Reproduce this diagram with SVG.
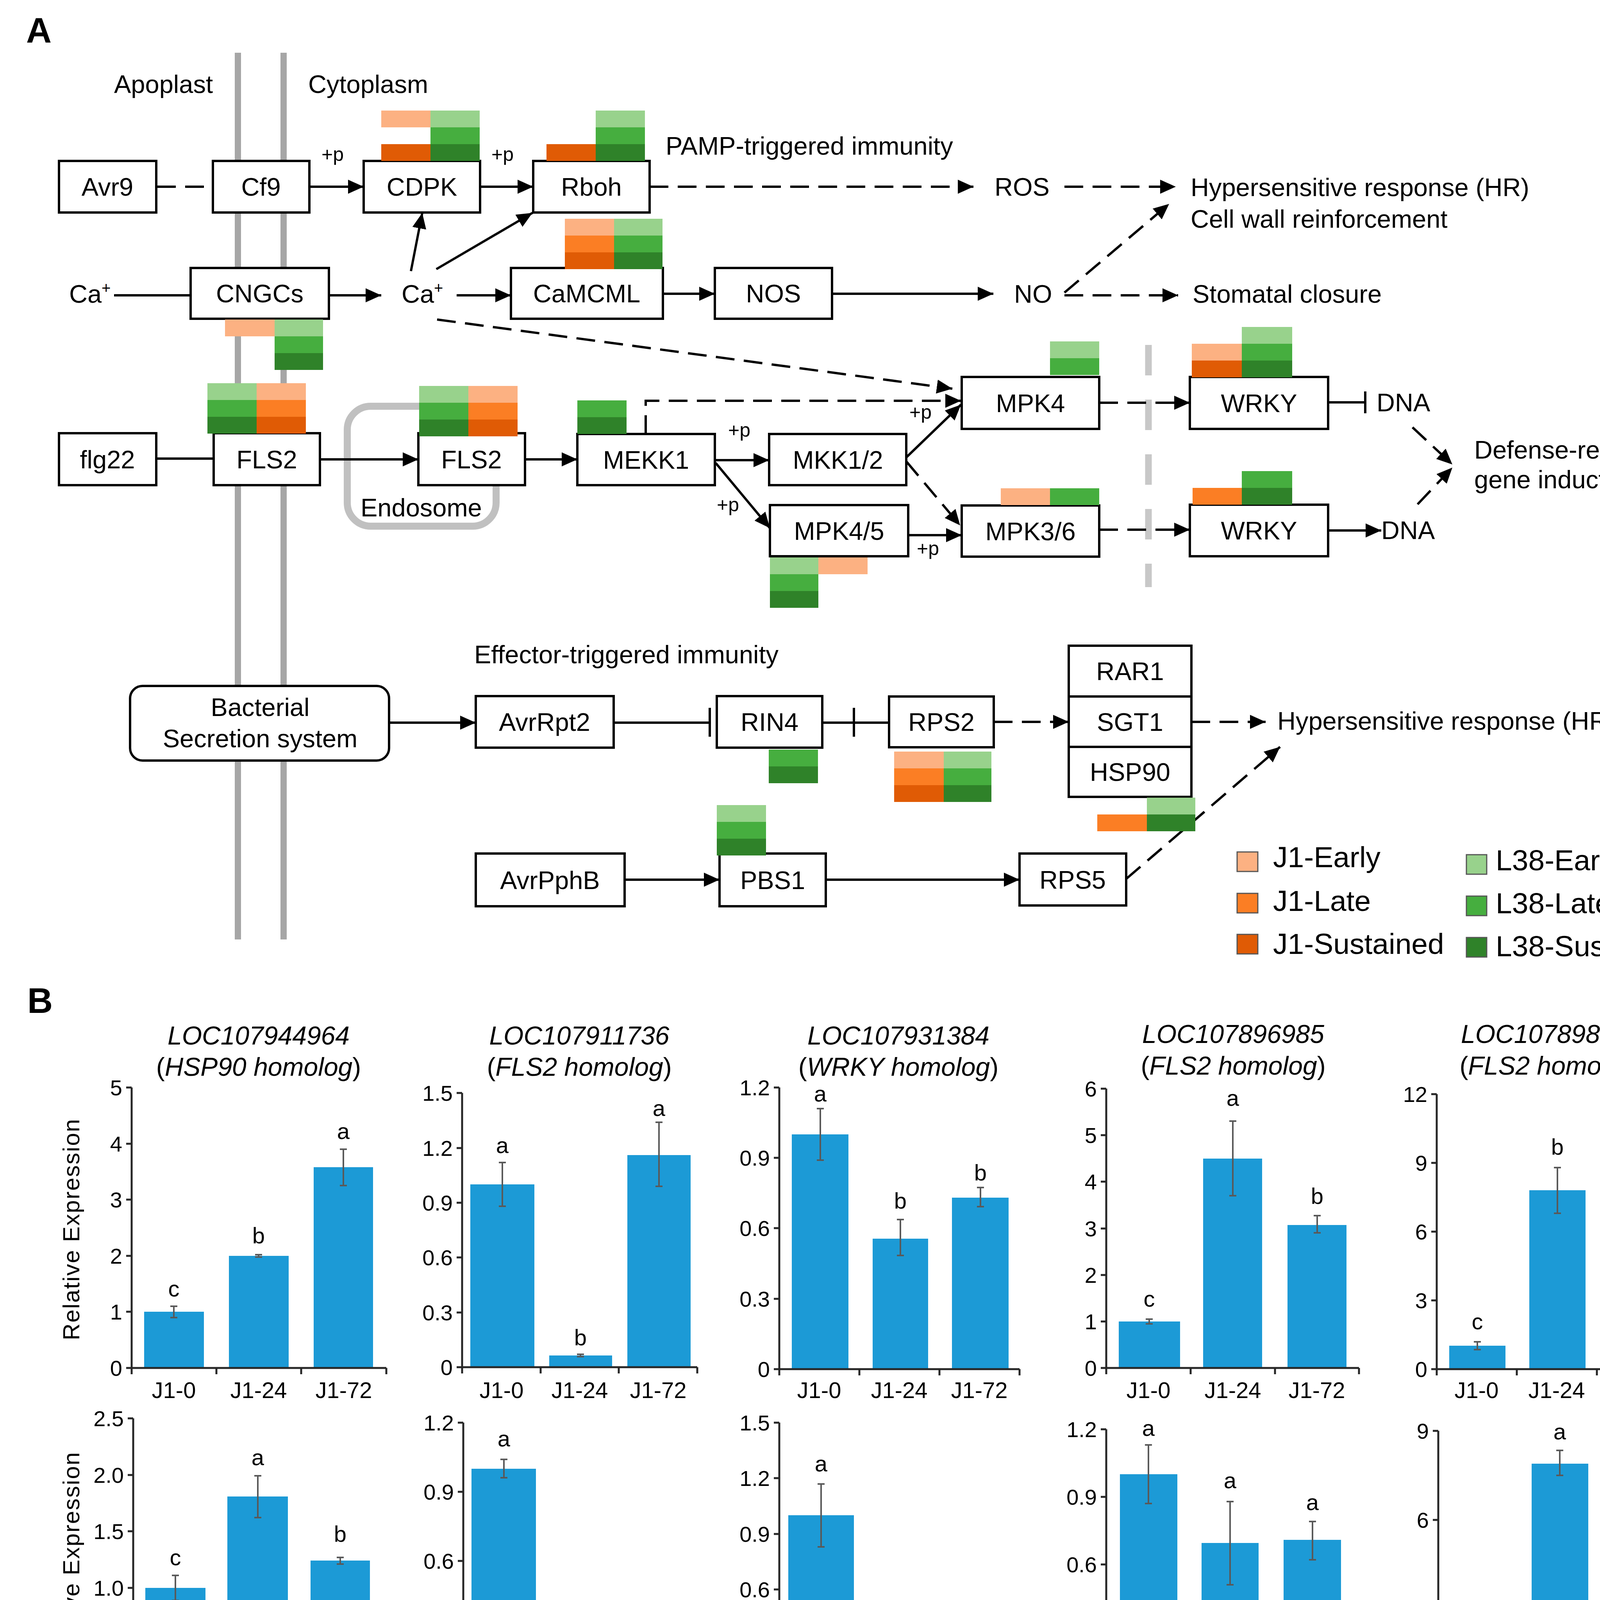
<svg xmlns="http://www.w3.org/2000/svg" width="4356" height="4493" viewBox="0 0 4356 4493">
<defs>
<style>
text{font-family:"Liberation Sans",Arial,sans-serif;fill:#000}
.t{font-size:65px;text-anchor:middle}
.s{font-size:65px}
.pp{font-size:50px}
.box{fill:#fff;stroke:#000;stroke-width:6}
.c{fill:none;stroke:#000;stroke-width:6}
.d{stroke-dasharray:48 24}
.je{fill:#fcb182}.jl{fill:#fb7e24}.js{fill:#e05b05}
.le{fill:#98d28c}.ll{fill:#46ae3f}.ls{fill:#2f8229}
.mem{stroke:#a6a6a6;stroke-width:16}
.leg{font-size:75px}
.sw{stroke:#555;stroke-width:3}
.bar{fill:#1c9ad6}
.err{fill:none;stroke:#595959;stroke-width:4}
.ax{fill:none;stroke:#262626;stroke-width:5}
.tk{font-size:56px;text-anchor:end}
.cat{font-size:58px;text-anchor:middle}
.let{font-size:58px;text-anchor:middle}
.ti{font-size:66px;text-anchor:middle;font-style:italic}
.ttl{font-size:66px;text-anchor:middle}
.yl{font-size:60px;text-anchor:middle;letter-spacing:2px}
</style>
<marker id="ah" viewBox="0 0 40 36" markerWidth="40" markerHeight="36" refX="40" refY="18" orient="auto" markerUnits="userSpaceOnUse"><path d="M0,0L40,18L0,36z" fill="#000"/></marker>
</defs>
<rect width="4356" height="4493" fill="#fff"/>

<!-- Panel A -->
<text x="67" y="109" style="font-size:90px;font-weight:bold">A</text>
<g id="membrane">
<line class="mem" x1="609" y1="135" x2="609" y2="2405"/>
<line class="mem" x1="726" y1="135" x2="726" y2="2405"/>
</g>
<line id="nuclear-boundary" x1="2940" y1="883" x2="2940" y2="1503" stroke="#c8c8c8" stroke-width="17" stroke-dasharray="78 62"/>
<rect id="endosome" x="889" y="1040" width="381" height="307" rx="60" fill="none" stroke="#c0c0c0" stroke-width="18"/>

<text class="s" x="292" y="238">Apoplast</text>
<text class="s" x="789" y="238">Cytoplasm</text>
<text class="s" x="1704" y="396">PAMP-triggered immunity</text>
<text class="s" x="1214" y="1698">Effector-triggered immunity</text>
<text class="s" x="923" y="1322">Endosome</text>
<text class="pp" x="823" y="412">+p</text>
<text class="pp" x="1258" y="412">+p</text>
<text class="pp" x="1864" y="1118">+p</text>
<text class="pp" x="2328" y="1072">+p</text>
<text class="pp" x="1835" y="1309">+p</text>
<text class="pp" x="2347" y="1421">+p</text>

<g id="connectors">
<path class="c d" d="M402,478H545"/>
<path class="c" d="M792,478H931" marker-end="url(#ah)"/>
<path class="c" d="M1229,478H1365" marker-end="url(#ah)"/>
<path class="c d" d="M1663,478H2492" marker-end="url(#ah)"/>
<path class="c d" d="M2725,478H3010" marker-end="url(#ah)"/>
<path class="c" d="M292,756H488"/>
<path class="c" d="M842,756H976" marker-end="url(#ah)"/>
<path class="c" d="M1169,756H1308" marker-end="url(#ah)"/>
<path class="c" d="M1052,694L1081,545" marker-end="url(#ah)"/>
<path class="c" d="M1117,689L1363,545" marker-end="url(#ah)"/>
<path class="c" d="M1697,752H1830" marker-end="url(#ah)"/>
<path class="c" d="M2130,752H2543" marker-end="url(#ah)"/>
<path class="c d" d="M2725,749L2993,522" marker-end="url(#ah)"/>
<path class="c d" d="M2725,756H3016" marker-end="url(#ah)"/>
<path class="c d" d="M1119,818L2438,995" marker-end="url(#ah)"/>
<path class="c" d="M400,1174H547"/>
<path class="c" d="M819,1176H1071" marker-end="url(#ah)"/>
<path class="c" d="M1344,1176H1478" marker-end="url(#ah)"/>
<path class="c d" d="M1653,1111V1026H2460" marker-end="url(#ah)"/>
<path class="c" d="M1830,1178H1969" marker-end="url(#ah)"/>
<path class="c" d="M2320,1171L2460,1036" marker-end="url(#ah)"/>
<path class="c d" d="M2320,1181L2458,1345" marker-end="url(#ah)"/>
<path class="c" d="M1832,1185L1971,1352" marker-end="url(#ah)"/>
<path class="c" d="M2325,1370H2462" marker-end="url(#ah)"/>
<path class="c d" d="M2814,1031H3046" marker-end="url(#ah)"/>
<path class="c d" d="M2814,1356H3046" marker-end="url(#ah)"/>
<path class="c" d="M3400,1030H3495M3495,1002V1058"/>
<path class="c" d="M3400,1358H3536" marker-end="url(#ah)"/>
<path class="c d" d="M3616,1094L3718,1189" marker-end="url(#ah)"/>
<path class="c d" d="M3629,1291L3718,1197" marker-end="url(#ah)"/>
<path class="c" d="M996,1850H1218" marker-end="url(#ah)"/>
<path class="c" d="M1571,1850H1817M1817,1812V1886"/>
<path class="c" d="M2105,1850H2276M2186,1812V1886"/>
<path class="c d" d="M2544,1848H2736" marker-end="url(#ah)"/>
<path class="c d" d="M3050,1848H3240" marker-end="url(#ah)"/>
<path class="c" d="M1599,2252H1842" marker-end="url(#ah)"/>
<path class="c" d="M2114,2252H2610" marker-end="url(#ah)"/>
<path class="c d" d="M2883,2250L3277,1912" marker-end="url(#ah)"/>
</g>

<g id="Avr9"><rect class="box" x="151" y="412" width="249" height="132"/><text class="t" x="275" y="501">Avr9</text></g>
<g id="Cf9"><rect class="box" x="545" y="412" width="247" height="132"/><text class="t" x="668" y="501">Cf9</text></g>
<g id="CDPK"><rect class="box" x="931" y="412" width="298" height="132"/><text class="t" x="1080" y="501">CDPK</text>
<rect class="je" x="976" y="283" width="126" height="43"/><rect class="js" x="976" y="369" width="126" height="43"/>
<rect class="le" x="1102" y="283" width="126" height="43"/><rect class="ll" x="1102" y="326" width="126" height="43"/><rect class="ls" x="1102" y="369" width="126" height="43"/></g>
<g id="Rboh"><rect class="box" x="1365" y="412" width="298" height="132"/><text class="t" x="1514" y="501">Rboh</text>
<rect class="js" x="1399" y="369" width="126" height="43"/>
<rect class="le" x="1525" y="283" width="126" height="43"/><rect class="ll" x="1525" y="326" width="126" height="43"/><rect class="ls" x="1525" y="369" width="126" height="43"/></g>
<g id="ROS"><text class="s" x="2546" y="501">ROS</text></g>
<g id="HR1"><text class="s" x="3048" y="502">Hypersensitive response (HR)</text><text class="s" x="3048" y="583">Cell wall reinforcement</text></g>
<g id="Ca-out"><text class="s" x="177" y="775">Ca<tspan style="font-size:40px" dy="-24">+</tspan></text></g>
<g id="CNGCs"><rect class="box" x="488" y="686" width="354" height="130"/><text class="t" x="665" y="774">CNGCs</text>
<rect class="je" x="576" y="818" width="127" height="43"/>
<rect class="le" x="703" y="818" width="124" height="43"/><rect class="ll" x="703" y="861" width="124" height="43"/><rect class="ls" x="703" y="904" width="124" height="43"/></g>
<g id="Ca-in"><text class="s" x="1028" y="775">Ca<tspan style="font-size:40px" dy="-24">+</tspan></text></g>
<g id="CaMCML"><rect class="box" x="1308" y="686" width="389" height="130"/><text class="t" x="1502" y="774">CaMCML</text>
<rect class="je" x="1446" y="560" width="126" height="43"/><rect class="jl" x="1446" y="603" width="126" height="43"/><rect class="js" x="1446" y="646" width="126" height="43"/>
<rect class="le" x="1572" y="560" width="124" height="43"/><rect class="ll" x="1572" y="603" width="124" height="43"/><rect class="ls" x="1572" y="646" width="124" height="43"/></g>
<g id="NOS"><rect class="box" x="1830" y="686" width="300" height="130"/><text class="t" x="1980" y="774">NOS</text></g>
<g id="NO"><text class="s" x="2596" y="775">NO</text></g>
<g id="Stomatal"><text class="s" x="3053" y="775">Stomatal closure</text></g>
<g id="flg22"><rect class="box" x="151" y="1109" width="249" height="133"/><text class="t" x="275" y="1199">flg22</text></g>
<g id="FLS2a"><rect class="box" x="547" y="1109" width="272" height="133"/><text class="t" x="683" y="1199">FLS2</text>
<rect class="le" x="531" y="981" width="126" height="43"/><rect class="ll" x="531" y="1024" width="126" height="43"/><rect class="ls" x="531" y="1067" width="126" height="43"/>
<rect class="je" x="657" y="981" width="126" height="43"/><rect class="jl" x="657" y="1024" width="126" height="43"/><rect class="js" x="657" y="1067" width="126" height="43"/></g>
<g id="FLS2b"><rect class="box" x="1071" y="1109" width="273" height="133"/><text class="t" x="1207" y="1199">FLS2</text>
<rect class="le" x="1073" y="988" width="126" height="43"/><rect class="ll" x="1073" y="1031" width="126" height="43"/><rect class="ls" x="1073" y="1074" width="126" height="43"/>
<rect class="je" x="1199" y="988" width="126" height="43"/><rect class="jl" x="1199" y="1031" width="126" height="43"/><rect class="js" x="1199" y="1074" width="126" height="43"/></g>
<g id="MEKK1"><rect class="box" x="1478" y="1111" width="352" height="131"/><text class="t" x="1654" y="1200">MEKK1</text>
<rect class="ll" x="1478" y="1025" width="126" height="43"/><rect class="ls" x="1478" y="1068" width="126" height="43"/></g>
<g id="MKK12"><rect class="box" x="1969" y="1111" width="351" height="131"/><text class="t" x="2145" y="1200">MKK1/2</text></g>
<g id="MPK4"><rect class="box" x="2462" y="965" width="352" height="133"/><text class="t" x="2638" y="1055">MPK4</text>
<rect class="le" x="2688" y="874" width="126" height="43"/><rect class="ll" x="2688" y="917" width="126" height="43"/></g>
<g id="MPK45"><rect class="box" x="1971" y="1293" width="354" height="131"/><text class="t" x="2148" y="1382">MPK4/5</text>
<rect class="le" x="1971" y="1427" width="124" height="43"/><rect class="ll" x="1971" y="1470" width="124" height="43"/><rect class="ls" x="1971" y="1513" width="124" height="43"/>
<rect class="je" x="2095" y="1427" width="126" height="43"/></g>
<g id="MPK36"><rect class="box" x="2462" y="1294" width="352" height="131"/><text class="t" x="2638" y="1383">MPK3/6</text>
<rect class="je" x="2562" y="1250" width="126" height="43"/><rect class="ll" x="2688" y="1250" width="126" height="43"/></g>
<g id="WRKY1"><rect class="box" x="3046" y="965" width="354" height="133"/><text class="t" x="3223" y="1055">WRKY</text>
<rect class="je" x="3051" y="880" width="128" height="43"/><rect class="js" x="3051" y="923" width="128" height="43"/>
<rect class="le" x="3179" y="837" width="129" height="43"/><rect class="ll" x="3179" y="880" width="129" height="43"/><rect class="ls" x="3179" y="923" width="129" height="43"/></g>
<g id="WRKY2"><rect class="box" x="3046" y="1292" width="354" height="132"/><text class="t" x="3223" y="1381">WRKY</text>
<rect class="jl" x="3053" y="1249" width="126" height="43"/>
<rect class="ll" x="3179" y="1206" width="129" height="43"/><rect class="ls" x="3179" y="1249" width="129" height="43"/></g>
<g id="DNA1"><text class="s" x="3524" y="1053">DNA</text></g>
<g id="DNA2"><text class="s" x="3536" y="1380">DNA</text></g>
<g id="Defense"><text class="s" x="3774" y="1174">Defense-related</text><text class="s" x="3774" y="1250">gene induction</text></g>

<g id="Bacterial"><rect class="box" x="333" y="1756" width="663" height="191" rx="32"/><text class="t" x="666" y="1833">Bacterial</text><text class="t" x="666" y="1913">Secretion system</text></g>
<g id="AvrRpt2"><rect class="box" x="1218" y="1782" width="353" height="132"/><text class="t" x="1394" y="1871">AvrRpt2</text></g>
<g id="RIN4"><rect class="box" x="1835" y="1782" width="270" height="132"/><text class="t" x="1970" y="1871">RIN4</text>
<rect class="ll" x="1968" y="1919" width="126" height="43"/><rect class="ls" x="1968" y="1962" width="126" height="43"/></g>
<g id="RPS2"><rect class="box" x="2276" y="1783" width="268" height="130"/><text class="t" x="2410" y="1871">RPS2</text>
<rect class="je" x="2289" y="1924" width="127" height="43"/><rect class="jl" x="2289" y="1967" width="127" height="43"/><rect class="js" x="2289" y="2010" width="127" height="43"/>
<rect class="le" x="2416" y="1924" width="122" height="43"/><rect class="ll" x="2416" y="1967" width="122" height="43"/><rect class="ls" x="2416" y="2010" width="122" height="43"/></g>
<g id="RAR1"><rect class="box" x="2736" y="1653" width="314" height="130"/><text class="t" x="2893" y="1741">RAR1</text></g>
<g id="SGT1"><rect class="box" x="2736" y="1783" width="314" height="129"/><text class="t" x="2893" y="1871">SGT1</text></g>
<g id="HSP90"><rect class="box" x="2736" y="1912" width="314" height="128"/><text class="t" x="2893" y="1999">HSP90</text>
<rect class="jl" x="2809" y="2085" width="127" height="43"/>
<rect class="le" x="2936" y="2042" width="124" height="43"/><rect class="ls" x="2936" y="2085" width="124" height="43"/></g>
<g id="HR2"><text class="s" x="3270" y="1868">Hypersensitive response (HR)</text></g>
<g id="AvrPphB"><rect class="box" x="1218" y="2185" width="381" height="135"/><text class="t" x="1408" y="2276">AvrPphB</text></g>
<g id="PBS1"><rect class="box" x="1842" y="2185" width="272" height="135"/><text class="t" x="1978" y="2276">PBS1</text>
<rect class="le" x="1835" y="2061" width="126" height="43"/><rect class="ll" x="1835" y="2104" width="126" height="43"/><rect class="ls" x="1835" y="2147" width="126" height="43"/></g>
<g id="RPS5"><rect class="box" x="2610" y="2185" width="273" height="133"/><text class="t" x="2746" y="2275">RPS5</text></g>

<g id="legend">
<rect class="je sw" x="3167" y="2181" width="53" height="50"/><text class="leg" x="3259" y="2220">J1-Early</text>
<rect class="jl sw" x="3167" y="2287" width="53" height="50"/><text class="leg" x="3259" y="2332">J1-Late</text>
<rect class="js sw" x="3167" y="2392" width="53" height="50"/><text class="leg" x="3259" y="2442">J1-Sustained</text>
<rect class="le sw" x="3754" y="2188" width="52" height="50"/><text class="leg" x="3829" y="2228">L38-Early</text>
<rect class="ll sw" x="3754" y="2294" width="52" height="50"/><text class="leg" x="3829" y="2338">L38-Late</text>
<rect class="ls sw" x="3754" y="2400" width="52" height="50"/><text class="leg" x="3829" y="2448">L38-Sustained</text>
</g>

<!-- Panel B -->
<text x="70" y="2593" style="font-size:90px;font-weight:bold">B</text>
<text class="yl" transform="translate(203,3147) rotate(-90)">Relative Expression</text>
<text class="yl" transform="translate(203,4000) rotate(-90)">Relative Expression</text>

<g id="chart1">
<text class="ti" x="662" y="2674">LOC107944964</text>
<text class="ttl" x="662" y="2754">(<tspan font-style="italic">HSP90 homolog</tspan>)</text>
<rect class="bar" x="369" y="3358" width="153" height="144"/><rect class="bar" x="586" y="3215" width="153" height="287"/><rect class="bar" x="803" y="2988" width="152" height="514"/>
<path class="ax" d="M337,2784V3502H989M323,2784H337M323,2928H337M323,3071H337M323,3215H337M323,3358H337M323,3502H337M337,3502V3518M554,3502V3518M771,3502V3518M989,3502V3518"/>
<path class="err" d="M445,3344V3373M436,3344H454M436,3373H454M662,3212V3218M653,3212H671M653,3218H671M879,2942V3035M870,2942H888M870,3035H888"/>
<text class="tk" x="313" y="2804">5</text><text class="tk" x="313" y="2948">4</text><text class="tk" x="313" y="3091">3</text><text class="tk" x="313" y="3235">2</text><text class="tk" x="313" y="3378">1</text><text class="tk" x="313" y="3522">0</text>
<text class="let" x="445" y="3319">c</text><text class="let" x="662" y="3183">b</text><text class="let" x="879" y="2916">a</text>
<text class="cat" x="445" y="3579">J1-0</text><text class="cat" x="662" y="3579">J1-24</text><text class="cat" x="880" y="3579">J1-72</text>
</g>

<g id="chart2">
<text class="ti" x="1483" y="2674">LOC107911736</text>
<text class="ttl" x="1483" y="2754">(<tspan font-style="italic">FLS2 homolog</tspan>)</text>
<rect class="bar" x="1204" y="3032" width="164" height="468"/><rect class="bar" x="1406" y="3470" width="161" height="30"/><rect class="bar" x="1606" y="2957" width="162" height="543"/>
<path class="ax" d="M1183,2798V3500H1785M1169,2798H1183M1169,2939H1183M1169,3079H1183M1169,3219H1183M1169,3360H1183M1169,3500H1183M1183,3500V3516M1384,3500V3516M1584,3500V3516M1785,3500V3516"/>
<path class="err" d="M1286,2976V3088M1277,2976H1295M1277,3088H1295M1486,3467V3473M1477,3467H1495M1477,3473H1495M1687,2873V3037M1678,2873H1696M1678,3037H1696"/>
<text class="tk" x="1159" y="2818">1.5</text><text class="tk" x="1159" y="2959">1.2</text><text class="tk" x="1159" y="3099">0.9</text><text class="tk" x="1159" y="3239">0.6</text><text class="tk" x="1159" y="3380">0.3</text><text class="tk" x="1159" y="3520">0</text>
<text class="let" x="1286" y="2952">a</text><text class="let" x="1486" y="3444">b</text><text class="let" x="1687" y="2857">a</text>
<text class="cat" x="1284" y="3579">J1-0</text><text class="cat" x="1484" y="3579">J1-24</text><text class="cat" x="1685" y="3579">J1-72</text>
</g>

<g id="chart3">
<text class="ti" x="2300" y="2674">LOC107931384</text>
<text class="ttl" x="2300" y="2754">(<tspan font-style="italic">WRKY homolog</tspan>)</text>
<rect class="bar" x="2027" y="2904" width="145" height="601"/><rect class="bar" x="2234" y="3171" width="142" height="334"/><rect class="bar" x="2437" y="3066" width="145" height="439"/>
<path class="ax" d="M1995,2784V3505H2610M1981,2784H1995M1981,2964H1995M1981,3144H1995M1981,3325H1995M1981,3505H1995M1995,3505V3521M2200,3505V3521M2405,3505V3521M2610,3505V3521"/>
<path class="err" d="M2100,2838V2970M2091,2838H2109M2091,2970H2109M2305,3122V3214M2296,3122H2314M2296,3214H2314M2510,3040V3089M2501,3040H2519M2501,3089H2519"/>
<text class="tk" x="1971" y="2804">1.2</text><text class="tk" x="1971" y="2984">0.9</text><text class="tk" x="1971" y="3164">0.6</text><text class="tk" x="1971" y="3345">0.3</text><text class="tk" x="1971" y="3525">0</text>
<text class="let" x="2100" y="2820">a</text><text class="let" x="2305" y="3094">b</text><text class="let" x="2510" y="3022">b</text>
<text class="cat" x="2097" y="3579">J1-0</text><text class="cat" x="2302" y="3579">J1-24</text><text class="cat" x="2507" y="3579">J1-72</text>
</g>

<g id="chart4">
<text class="ti" x="3157" y="2670">LOC107896985</text>
<text class="ttl" x="3157" y="2751">(<tspan font-style="italic">FLS2 homolog</tspan>)</text>
<rect class="bar" x="2864" y="3383" width="157" height="119"/><rect class="bar" x="3080" y="2966" width="151" height="536"/><rect class="bar" x="3296" y="3136" width="151" height="366"/>
<path class="ax" d="M2832,2787V3502H3479M2818,2787H2832M2818,2906H2832M2818,3025H2832M2818,3145H2832M2818,3264H2832M2818,3383H2832M2818,3502H2832M2832,3502V3518M3048,3502V3518M3264,3502V3518M3479,3502V3518"/>
<path class="err" d="M2942,3377V3389M2933,3377H2951M2933,3389H2951M3156,2870V3061M3147,2870H3165M3147,3061H3165M3372,3112V3156M3363,3112H3381M3363,3156H3381"/>
<text class="tk" x="2808" y="2807">6</text><text class="tk" x="2808" y="2926">5</text><text class="tk" x="2808" y="3045">4</text><text class="tk" x="2808" y="3165">3</text><text class="tk" x="2808" y="3284">2</text><text class="tk" x="2808" y="3403">1</text><text class="tk" x="2808" y="3522">0</text>
<text class="let" x="2942" y="3345">c</text><text class="let" x="3156" y="2831">a</text><text class="let" x="3372" y="3082">b</text>
<text class="cat" x="2940" y="3579">J1-0</text><text class="cat" x="3156" y="3579">J1-24</text><text class="cat" x="3371" y="3579">J1-72</text>
</g>

<g id="chart5">
<text class="ti" x="3973" y="2670">LOC107898147</text>
<text class="ttl" x="3973" y="2751">(<tspan font-style="italic">FLS2 homolog</tspan>)</text>
<rect class="bar" x="3710" y="3445" width="144" height="60"/><rect class="bar" x="3915" y="3047" width="144" height="458"/><rect class="bar" x="4118" y="2892" width="145" height="613"/>
<path class="ax" d="M3678,2801V3505H4293M3664,2801H3678M3664,2977H3678M3664,3153H3678M3664,3329H3678M3664,3505H3678M3678,3505V3521M3883,3505V3521M4088,3505V3521M4293,3505V3521"/>
<path class="err" d="M3782,3435V3455M3773,3435H3791M3773,3455H3791M3987,2989V3106M3978,2989H3996M3978,3106H3996M4190,2836V2950M4181,2836H4199M4181,2950H4199"/>
<text class="tk" x="3654" y="2821">12</text><text class="tk" x="3654" y="2997">9</text><text class="tk" x="3654" y="3173">6</text><text class="tk" x="3654" y="3349">3</text><text class="tk" x="3654" y="3525">0</text>
<text class="let" x="3782" y="3403">c</text><text class="let" x="3987" y="2956">b</text><text class="let" x="4190" y="2813">a</text>
<text class="cat" x="3780" y="3579">J1-0</text><text class="cat" x="3985" y="3579">J1-24</text><text class="cat" x="4190" y="3579">J1-72</text>
</g>

<g id="chart1b">
<rect class="bar" x="372" y="4065" width="154" height="289"/><rect class="bar" x="582" y="3831" width="155" height="523"/><rect class="bar" x="795" y="3995" width="152" height="359"/>
<path class="ax" d="M341,3631V4354H979M327,3631H341M327,3776H341M327,3920H341M327,4065H341M327,4209H341M327,4354H341M341,4354V4370M554,4354V4370M766,4354V4370M979,4354V4370"/>
<path class="err" d="M449,4033V4097M440,4033H458M440,4097H458M660,3778V3885M651,3778H669M651,3885H669M871,3987V4004M862,3987H880M862,4004H880"/>
<text class="tk" x="317" y="3651">2.5</text><text class="tk" x="317" y="3796">2.0</text><text class="tk" x="317" y="3940">1.5</text><text class="tk" x="317" y="4085">1.0</text><text class="tk" x="317" y="4229">0.5</text><text class="tk" x="317" y="4374">0</text>
<text class="let" x="449" y="4007">c</text><text class="let" x="660" y="3751">a</text><text class="let" x="871" y="3947">b</text>
<text class="cat" x="447" y="4429">L38-0</text><text class="cat" x="660" y="4429">L38-24</text><text class="cat" x="872" y="4429">L38-72</text>
</g>

<g id="chart2b">
<rect class="bar" x="1207" y="3760" width="165" height="591"/><rect class="bar" x="1410" y="4295" width="164" height="56"/><rect class="bar" x="1609" y="4316" width="167" height="35"/>
<path class="ax" d="M1186,3642V4351H1793M1172,3642H1186M1172,3819H1186M1172,3996H1186M1172,4174H1186M1172,4351H1186M1186,4351V4367M1388,4351V4367M1591,4351V4367M1793,4351V4367"/>
<path class="err" d="M1290,3736V3783M1281,3736H1299M1281,3783H1299M1492,4286V4304M1483,4286H1501M1483,4304H1501M1692,4307V4324M1683,4307H1701M1683,4324H1701"/>
<text class="tk" x="1162" y="3662">1.2</text><text class="tk" x="1162" y="3839">0.9</text><text class="tk" x="1162" y="4016">0.6</text><text class="tk" x="1162" y="4194">0.3</text><text class="tk" x="1162" y="4371">0</text>
<text class="let" x="1290" y="3703">a</text><text class="let" x="1492" y="4254">b</text><text class="let" x="1692" y="4278">b</text>
<text class="cat" x="1287" y="4429">L38-0</text><text class="cat" x="1489" y="4429">L38-24</text><text class="cat" x="1692" y="4429">L38-72</text>
</g>

<g id="chart3b">
<rect class="bar" x="2018" y="3879" width="168" height="475"/><rect class="bar" x="2221" y="4307" width="167" height="47"/><rect class="bar" x="2424" y="4335" width="168" height="19"/>
<path class="ax" d="M1995,3642V4354H2608M1981,3642H1995M1981,3784H1995M1981,3927H1995M1981,4069H1995M1981,4212H1995M1981,4354H1995M1995,4354V4370M2199,4354V4370M2403,4354V4370M2608,4354V4370"/>
<path class="err" d="M2102,3799V3960M2093,3799H2111M2093,3960H2111M2305,4292V4321M2296,4292H2314M2296,4321H2314M2508,4330V4340M2499,4330H2517M2499,4340H2517"/>
<text class="tk" x="1971" y="3662">1.5</text><text class="tk" x="1971" y="3804">1.2</text><text class="tk" x="1971" y="3947">0.9</text><text class="tk" x="1971" y="4089">0.6</text><text class="tk" x="1971" y="4232">0.3</text><text class="tk" x="1971" y="4374">0</text>
<text class="let" x="2102" y="3767">a</text><text class="let" x="2305" y="4266">b</text><text class="let" x="2508" y="4303">b</text>
<text class="cat" x="2097" y="4429">L38-0</text><text class="cat" x="2301" y="4429">L38-24</text><text class="cat" x="2505" y="4429">L38-72</text>
</g>

<g id="chart4b">
<rect class="bar" x="2867" y="3774" width="147" height="577"/><rect class="bar" x="3076" y="3950" width="146" height="401"/><rect class="bar" x="3286" y="3942" width="147" height="409"/>
<path class="ax" d="M2832,3659V4351H3462M2818,3659H2832M2818,3832H2832M2818,4005H2832M2818,4178H2832M2818,4351H2832M2832,4351V4367M3042,4351V4367M3252,4351V4367M3462,4351V4367"/>
<path class="err" d="M2940,3699V3849M2931,3699H2949M2931,3849H2949M3149,3844V4057M3140,3844H3158M3140,4057H3158M3360,3895V3993M3351,3895H3369M3351,3993H3369"/>
<text class="tk" x="2808" y="3679">1.2</text><text class="tk" x="2808" y="3852">0.9</text><text class="tk" x="2808" y="4025">0.6</text><text class="tk" x="2808" y="4198">0.3</text><text class="tk" x="2808" y="4371">0</text>
<text class="let" x="2940" y="3676">a</text><text class="let" x="3149" y="3810">a</text><text class="let" x="3360" y="3866">a</text>
<text class="cat" x="2937" y="4429">L38-0</text><text class="cat" x="3147" y="4429">L38-24</text><text class="cat" x="3357" y="4429">L38-72</text>
</g>

<g id="chart5b">
<rect class="bar" x="3712" y="4272" width="148" height="76"/><rect class="bar" x="3921" y="3747" width="145" height="601"/><rect class="bar" x="4125" y="4249" width="144" height="99"/>
<path class="ax" d="M3682,3663V4348H4301M3668,3663H3682M3668,3891H3682M3668,4120H3682M3668,4348H3682M3682,4348V4364M3888,4348V4364M4095,4348V4364M4301,4348V4364"/>
<path class="err" d="M3786,4268V4276M3777,4268H3795M3777,4276H3795M3993,3713V3777M3984,3713H4002M3984,3777H4002M4197,4234V4264M4188,4234H4206M4188,4264H4206"/>
<text class="tk" x="3658" y="3683">9</text><text class="tk" x="3658" y="3911">6</text><text class="tk" x="3658" y="4140">3</text><text class="tk" x="3658" y="4368">0</text>
<text class="let" x="3786" y="4245">b</text><text class="let" x="3993" y="3685">a</text><text class="let" x="4197" y="4209">b</text>
<text class="cat" x="3785" y="4429">L38-0</text><text class="cat" x="3991" y="4429">L38-24</text><text class="cat" x="4198" y="4429">L38-72</text>
</g>
</svg>
